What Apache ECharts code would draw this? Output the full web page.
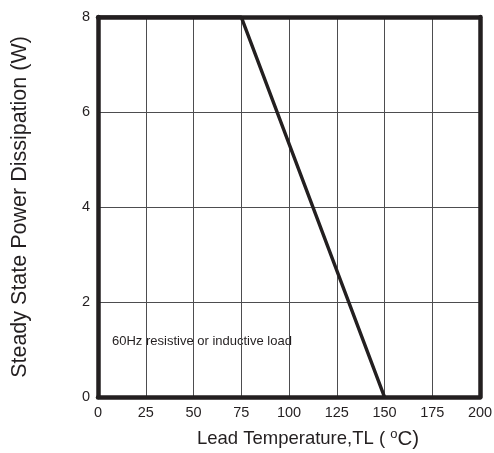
<!DOCTYPE html>
<html><head><meta charset="utf-8">
<script src="https://cdn.jsdelivr.net/npm/echarts@6/dist/echarts.min.js"></script>
<style>html,body{margin:0;padding:0;background:#fff}#c{width:494px;height:453px}</style>
</head><body><div id="c"></div>
<script>
const temps = [0, 75, 150];
const power = [8, 8, 0];
const xTicks = [0, 25, 50, 75, 100, 125, 150, 175, 200];
const yTicks = [0, 2, 4, 6, 8];
const note = '60Hz resistive or inductive load';

const chart = echarts.init(document.getElementById('c'));
const font = 'Liberation Sans, Arial, sans-serif';
const ink = '#231f20';
const frame = {show: true, onZero: false, lineStyle: {color: ink, width: 4.5}};
const grid = {show: true, lineStyle: {color: '#4d4d4f', width: 1}};
chart.setOption({
  animation: false,
  grid: {left: 98, right: 14, top: 17, bottom: 56, containLabel: false, outerBoundsMode: 'none'},
  xAxis: [{
    type: 'value', min: 0, max: 200, interval: 25,
    axisLine: frame, axisTick: {show: false},
    splitLine: grid,
    axisLabel: {color: ink, fontSize: 14.5, fontFamily: font, margin: 8},
    name: 'Lead Temperature,TL ( {sup|o}{c|C)}',
    nameLocation: 'middle', nameGap: 31,
    nameTextStyle: {color: ink, fontSize: 18.5, fontFamily: font, padding: [0, 0, 0, 38],
      rich: {
        sup: {fontSize: 13, verticalAlign: 'top', padding: [0, 0, 9, 0], fontFamily: font, color: ink},
        c: {fontSize: 20.5, fontFamily: font, color: ink}
      }}
  }, {
    type: 'value', min: 0, max: 200, interval: 25, position: 'top',
    axisLine: frame, axisTick: {show: false}, axisLabel: {show: false}, splitLine: {show: false}
  }],
  yAxis: [{
    type: 'value', min: 0, max: 8, interval: 2,
    axisLine: frame, axisTick: {show: false},
    splitLine: grid,
    axisLabel: {color: ink, fontSize: 14.5, fontFamily: font, margin: 8},
    name: 'Steady State Power Dissipation (W)',
    nameLocation: 'middle', nameGap: 67, nameRotate: 90,
    nameTextStyle: {color: ink, fontSize: 21.5, fontFamily: font}
  }, {
    type: 'value', min: 0, max: 8, interval: 2, position: 'right',
    axisLine: frame, axisTick: {show: false}, axisLabel: {show: false}, splitLine: {show: false}
  }],
  series: [{
    type: 'line', data: temps.map((t, i) => [t, power[i]]),
    symbol: 'none', lineStyle: {color: ink, width: 3.5}, z: 3
  }],
  graphic: [{
    type: 'text', left: 112, top: 335,
    style: {text: note, fontSize: 13, fontFamily: font, fill: ink}
  }]
});
</script></body></html>
